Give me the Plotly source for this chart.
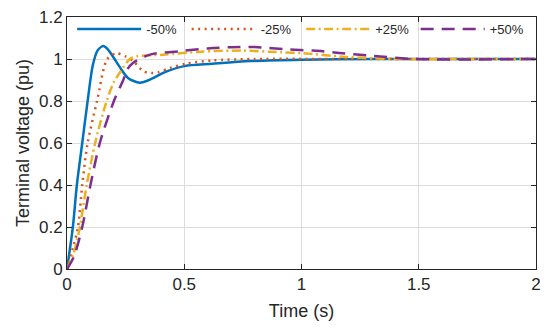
import plotly.graph_objects as go

# -50% response
t_m50 = [0, 0.025, 0.042, 0.065, 0.088, 0.11, 0.13, 0.155, 0.175, 0.2, 0.226, 0.26, 0.31, 0.36, 0.41, 0.5, 0.62, 0.78, 1.0, 1.3, 1.6, 2.0]
v_m50 = [0, 0.2, 0.4, 0.6, 0.8, 0.97, 1.04, 1.062, 1.045, 1.005, 0.96, 0.91, 0.887, 0.905, 0.934, 0.966, 0.977, 0.99, 0.997, 1.0, 1.0, 1.0]

# -25% response
t_m25 = [0, 0.025, 0.047, 0.065, 0.088, 0.128, 0.172, 0.21, 0.25, 0.283, 0.325, 0.36, 0.39, 0.44, 0.51, 0.62, 0.8, 1.2, 2.0]
v_m25 = [0, 0.1, 0.2, 0.4, 0.6, 0.8, 1.0, 1.027, 1.012, 0.99, 0.942, 0.933, 0.937, 0.958, 0.978, 0.993, 1.0, 1.0, 1.0]

# +25% response
t_p25 = [0, 0.03, 0.055, 0.084, 0.12, 0.169, 0.2, 0.229, 0.268, 0.3, 0.41, 0.57, 0.75, 0.91, 1.0, 1.19, 1.4, 1.7, 2.0]
v_p25 = [0, 0.08, 0.2, 0.4, 0.6, 0.8, 0.89, 0.942, 1.0, 1.013, 1.02, 1.035, 1.04, 1.032, 1.028, 1.01, 1.0, 1.0, 1.0]

# +50% response
t_p50 = [0, 0.03, 0.065, 0.1, 0.14, 0.2, 0.24, 0.257, 0.28, 0.354, 0.48, 0.6, 0.7, 0.8, 0.95, 1.05, 1.15, 1.28, 1.48, 1.7, 2.0]
v_p50 = [0, 0.06, 0.2, 0.4, 0.6, 0.8, 0.9, 0.95, 0.98, 1.021, 1.037, 1.05, 1.056, 1.057, 1.045, 1.04, 1.03, 1.017, 1.0, 0.998, 1.0]

series_names = ["-50%", "-25%", "+25%", "+50%"]

x_ticks = [0, 0.5, 1, 1.5, 2]
x_tick_labels = ["0", "0.5", "1", "1.5", "2"]
y_ticks = [0, 0.2, 0.4, 0.6, 0.8, 1.0, 1.2]
y_tick_labels = ["0", "0.2", "0.4", "0.6", "0.8", "1", "1.2"]

fig = go.Figure()
styles = [
    dict(color="#0072BD", width=2.5, dash="solid"),
    dict(color="#D95319", width=2.5, dash="2px,4.5px"),
    dict(color="#EDB120", width=2.5, dash="9px,3.5px,2px,3.5px"),
    dict(color="#7E2F8E", width=2.5, dash="13px,8px"),
]
data = [(t_m50, v_m50), (t_m25, v_m25), (t_p25, v_p25), (t_p50, v_p50)]
for (t, v), name, st in zip(data, series_names, styles):
    fig.add_trace(go.Scatter(x=t, y=v, mode="lines", name=name,
                             line=dict(shape="spline", smoothing=0.8, **st)))

axis_common = dict(
    showline=True, linecolor="#262626", linewidth=1, mirror="ticks",
    ticks="inside", ticklen=5, tickcolor="#262626", automargin=False,
    showgrid=True, gridcolor="#dcdcdc", gridwidth=1, zeroline=False,
    tickfont=dict(family="Liberation Sans, Arial", size=17, color="#262626"),
)

fig.update_layout(
    width=550, height=330,
    margin=dict(l=67, r=14, t=17, b=61),
    paper_bgcolor="white", plot_bgcolor="white",
    font=dict(family="Liberation Sans, Arial", color="#262626"),
    xaxis=dict(range=[0, 2], tickvals=x_ticks, ticktext=x_tick_labels,
               title=dict(text="Time (s)", font=dict(size=18), standoff=10), **axis_common),
    yaxis=dict(range=[0, 1.2], tickvals=y_ticks, ticktext=y_tick_labels,
               title=dict(text="Terminal voltage (pu)", font=dict(size=18), standoff=4), **axis_common),
    legend=dict(orientation="h", x=0.011, xanchor="left", y=1.012, yanchor="top",
                bgcolor="rgba(255,255,255,0)", font=dict(size=13, color="#262626"),
                itemwidth=64, entrywidth=35.5, entrywidthmode="pixels"),
    showlegend=True,
)

fig.write_html("out.html", config={"displayModeBar": False},
               post_script="document.body.style.margin='0';")
